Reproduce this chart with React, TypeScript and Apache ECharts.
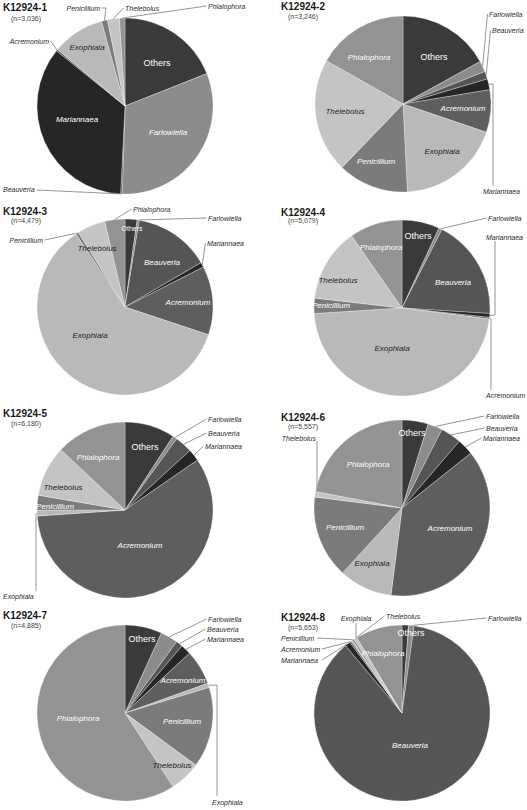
import { useEffect, useRef } from "react";
import * as echarts from "echarts";

// ---------- data ----------
const categories = [
  "Others",
  "Farlowiella",
  "Beauveria",
  "Mariannaea",
  "Acremonium",
  "Exophiala",
  "Penicillium",
  "Thelebolus",
  "Phialophora",
];
const categoryColors = [
  "#3a3a3a",
  "#8c8c8c",
  "#555555",
  "#262626",
  "#5e5e5e",
  "#b9b9b9",
  "#7b7b7b",
  "#c4c4c4",
  "#939393",
];
const sampleNames = ["K12924-1", "K12924-2", "K12924-3", "K12924-4", "K12924-5", "K12924-6", "K12924-7", "K12924-8"];
const sampleSizes = ["(n=3,036)", "(n=3,246)", "(n=4,479)", "(n=5,079)", "(n=6,180)", "(n=5,557)", "(n=4,885)", "(n=5,653)"];

// relative abundance (%) per category, in category order
const k1 = [19.0, 31.5, 0.3, 35.0, 0.3, 9.6, 1.1, 2.2, 1.0];
const k2 = [17.0, 2.0, 1.4, 2.0, 7.8, 19.0, 13.0, 21.0, 16.8];
const k3 = [2.2, 0.4, 14.0, 0.9, 12.6, 60.5, 0.5, 5.2, 3.7];
const k4 = [6.9, 0.6, 18.5, 0.7, 0.3, 47.0, 2.8, 13.5, 9.7];
const k5 = [9.2, 0.8, 3.2, 2.2, 58.5, 1.1, 2.7, 9.3, 13.0];
const k6 = [4.8, 2.7, 3.8, 3.0, 37.7, 9.8, 15.2, 1.0, 22.0];
const k7 = [6.8, 3.2, 1.2, 1.9, 6.4, 0.8, 14.8, 5.7, 59.2];
const k8 = [1.2, 1.0, 86.7, 1.0, 0.3, 0.3, 0.3, 0.6, 8.6];
const samples = [k1, k2, k3, k4, k5, k6, k7, k8];

// ---------- layout (positions only) ----------
type Pt = [number, number];
type LabelSpec =
  | { kind: "in"; at: Pt; dark?: boolean; size?: number }
  | { kind: "out"; at: Pt; align: "left" | "right" | "center"; via?: Pt; end?: Pt };

const IN = (x: number, y: number, dark = false, size?: number): LabelSpec => ({ kind: "in", at: [x, y], dark, size });
const OUT = (x: number, y: number, align: "left" | "right" | "center", via?: Pt, end?: Pt): LabelSpec => ({
  kind: "out",
  at: [x, y],
  align,
  via,
  end,
});

const RADIUS = 88;
const pieLayouts: { center: Pt; title: Pt; sub: Pt; labels: LabelSpec[] }[] = [
  {
    center: [125, 106],
    title: [25, 7.5],
    sub: [26, 18],
    labels: [
      IN(157, 63),
      IN(168, 132),
      OUT(3, 189, "left", undefined, [37, 190]),
      IN(77, 119),
      OUT(49, 41, "right"),
      IN(87, 47, true),
      OUT(100, 8, "right", [106, 8]),
      OUT(125, 8, "left"),
      OUT(208, 6, "left"),
    ],
  },
  {
    center: [403, 104],
    title: [303, 6.5],
    sub: [303, 16],
    labels: [
      IN(434, 57),
      OUT(489, 14, "left"),
      OUT(492, 30, "left"),
      OUT(483, 191, "left", [493, 84], [493, 186]),
      IN(463, 108),
      IN(442, 151, true),
      IN(376, 161),
      IN(345, 111, true),
      IN(369, 57),
    ],
  },
  {
    center: [125, 307],
    title: [25, 211],
    sub: [26, 220.5],
    labels: [
      IN(132, 228, false, 7),
      OUT(208, 218, "left"),
      IN(162, 262),
      OUT(207, 243, "left"),
      IN(188, 302),
      IN(90, 335, true),
      OUT(43, 240, "right"),
      IN(97, 248, true),
      OUT(133, 209, "left"),
    ],
  },
  {
    center: [402, 308],
    title: [303, 212],
    sub: [303, 220.5],
    labels: [
      IN(418, 236),
      OUT(488, 218, "left"),
      IN(453, 282),
      OUT(486, 237, "left", [495, 315], [495, 241]),
      OUT(486, 395, "left", [491, 319], [491, 390]),
      IN(392, 348, true),
      IN(331, 305),
      IN(338, 280, true),
      IN(381, 247),
    ],
  },
  {
    center: [125, 510],
    title: [25, 413.5],
    sub: [26, 423.5],
    labels: [
      IN(145, 447),
      OUT(208, 419, "left"),
      OUT(208, 433, "left"),
      OUT(205, 446, "left"),
      IN(140, 545),
      OUT(3, 596, "left", [36, 514], [36, 591]),
      IN(55, 506),
      IN(63, 487, true),
      IN(98, 457),
    ],
  },
  {
    center: [402, 508],
    title: [303, 417],
    sub: [303, 426],
    labels: [
      IN(412, 433),
      OUT(486, 416, "left"),
      OUT(486, 428, "left"),
      OUT(483, 438, "left"),
      IN(450, 528),
      IN(372, 563, true),
      IN(345, 527),
      OUT(316, 438, "right", [317, 494], [317, 441]),
      IN(368, 464),
    ],
  },
  {
    center: [125, 713],
    title: [25, 615.5],
    sub: [26, 625],
    labels: [
      IN(142, 639),
      OUT(208, 619, "left"),
      OUT(207, 629, "left"),
      OUT(207, 639, "left"),
      IN(183, 680),
      OUT(212, 802, "left", [217, 685], [217, 796]),
      IN(182, 721),
      IN(172, 765, true),
      IN(78, 718),
    ],
  },
  {
    center: [402, 713],
    title: [303, 617.5],
    sub: [303, 627],
    labels: [
      IN(411, 633),
      OUT(488, 618, "left"),
      IN(410, 745),
      OUT(281, 660, "left", undefined, [322, 660]),
      OUT(281, 649, "left", undefined, [322, 649]),
      OUT(356, 618, "center", [356, 640], [356, 623]),
      OUT(281, 638, "left", undefined, [317, 638]),
      OUT(386, 616, "left"),
      IN(383, 653),
    ],
  },
];

const FONT = "'Liberation Sans', Arial, sans-serif";

function edgePoint(values: number[], idx: number, c: Pt, r: number): Pt {
  const total = values.reduce((a, b) => a + b, 0);
  let before = 0;
  for (let i = 0; i < idx; i++) before += values[i];
  const ang = ((before + values[idx] / 2) / total) * Math.PI * 2;
  return [c[0] + r * Math.sin(ang), c[1] - r * Math.cos(ang)];
}

export default function App() {
  const ref = useRef<HTMLDivElement>(null);

  useEffect(() => {
    document.body.style.margin = "0";
    if (!ref.current) return;
    const chart = echarts.init(ref.current, undefined, { renderer: "svg" });

    const series = samples.map((values, si) => {
      const lay = pieLayouts[si];
      return {
        type: "pie",
        center: lay.center,
        radius: [0, RADIUS],
        startAngle: 90,
        clockwise: true,
        avoidLabelOverlap: false,
        silent: true,
        minShowLabelAngle: 0,
        label: { show: true, formatter: "{b}", fontFamily: FONT },
        labelLine: { show: true, lineStyle: { color: "#7a7a7a", width: 0.8 } },
        itemStyle: { borderColor: "#ffffff", borderWidth: 0.3 },
        data: categories.map((name, j) => {
          const spec = lay.labels[j];
          const isOthers = j === 0;
          return {
            name,
            value: values[j],
            itemStyle: { color: categoryColors[j] },
            label:
              spec.kind === "in"
                ? {
                    position: "inside",
                    color: spec.dark ? "#1e1e1e" : "#ffffff",
                    fontStyle: isOthers ? "normal" : "italic",
                    fontSize: spec.size ?? (isOthers ? 9 : 8),
                  }
                : { position: "outside", color: "#2a2a2a", fontStyle: "italic", fontSize: 7 },
            labelLine: { show: spec.kind === "out" },
          };
        }),
        labelLayout: (params: any) => {
          const spec = lay.labels[params.dataIndex];
          if (spec.kind === "in") {
            return { x: spec.at[0], y: spec.at[1], align: "center", verticalAlign: "middle" };
          }
          const e = edgePoint(values, params.dataIndex, lay.center, RADIUS);
          const end: Pt =
            spec.end ??
            (spec.align === "left"
              ? [spec.at[0] - 1.5, spec.at[1]]
              : spec.align === "right"
              ? [spec.at[0] + 1.5, spec.at[1]]
              : [spec.at[0], spec.at[1] + 4]);
          const via: Pt = spec.via ?? end;
          return {
            x: spec.at[0],
            y: spec.at[1],
            align: spec.align,
            verticalAlign: "middle",
            labelLinePoints: [e, via, end],
          };
        },
      };
    });

    const graphic = pieLayouts.flatMap((lay, i) => [
      {
        type: "text",
        x: lay.title[0],
        y: lay.title[1],
        silent: true,
        style: {
          text: sampleNames[i],
          align: "center",
          verticalAlign: "middle",
          fontSize: 10,
          fontWeight: "bold",
          fontFamily: FONT,
          fill: "#1a1a1a",
        },
      },
      {
        type: "text",
        x: lay.sub[0],
        y: lay.sub[1],
        silent: true,
        style: {
          text: sampleSizes[i],
          align: "center",
          verticalAlign: "middle",
          fontSize: 7,
          fontFamily: FONT,
          fill: "#444444",
        },
      },
    ]);

    chart.setOption({
      animation: false,
      backgroundColor: "#ffffff",
      textStyle: { fontFamily: FONT },
      series,
      graphic,
    } as any);

    return () => chart.dispose();
  }, []);

  return <div ref={ref} style={{ width: 527, height: 810 }} />;
}
